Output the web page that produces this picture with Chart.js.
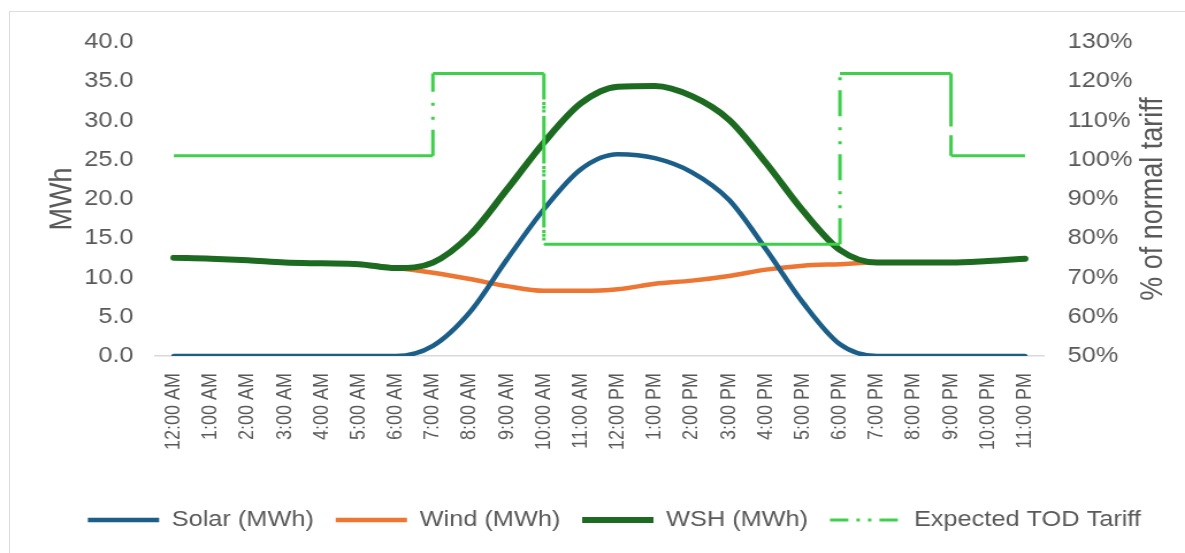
<!DOCTYPE html>
<html>
<head>
<meta charset="utf-8">
<script src="https://cdn.jsdelivr.net/npm/chart.js@4.4.1/dist/chart.umd.min.js"></script>
<style>
  html, body { margin: 0; padding: 0; background: #fff; overflow: hidden; }
  #frame { position: absolute; left: 9px; top: 11px; width: 1200px; height: 600px; border: 1px solid #dcdcdc; }
  #wrap { position: absolute; left: 0; top: 0; width: 1030px; height: 553px; transform: scaleX(1.1505); transform-origin: 0 0; }
</style>
</head>
<body>
<div id="frame"></div>
<div id="wrap"><canvas id="chart" width="1030" height="553"></canvas></div>
<script>
// hourly values
const hours = ['12:00 AM', '1:00 AM', '2:00 AM', '3:00 AM', '4:00 AM', '5:00 AM', '6:00 AM', '7:00 AM',
  '8:00 AM', '9:00 AM', '10:00 AM', '11:00 AM', '12:00 PM', '1:00 PM', '2:00 PM', '3:00 PM',
  '4:00 PM', '5:00 PM', '6:00 PM', '7:00 PM', '8:00 PM', '9:00 PM', '10:00 PM', '11:00 PM'];
const solar = [0, 0, 0, 0, 0, 0, 0, 1.3, 5.6, 12.3, 18.7, 23.8, 25.7, 25.2, 23.4, 19.9, 13.6, 6.8, 1.5, 0, 0, 0, 0, 0];
const wind = [12.5, 12.4, 12.2, 11.9, 11.8, 11.7, 11.2, 10.6, 9.8, 8.9, 8.3, 8.3, 8.5, 9.2, 9.6, 10.2, 11.0, 11.5, 11.7, 11.9, 11.9, 11.9, 12.1, 12.4];
const wsh = [12.5, 12.4, 12.2, 11.9, 11.8, 11.7, 11.2, 11.9, 15.4, 21.2, 27.2, 32.2, 34.3, 34.4, 33.1, 30.1, 24.6, 18.5, 13.5, 11.9, 11.9, 11.9, 12.1, 12.4];
const tariff = [101, 101, 101, 101, 101, 101, 101, 122, 122, 122, 78.5, 78.5, 78.5, 78.5, 78.5, 78.5,
  78.5, 78.5, 122, 122, 122, 101, 101, 101];

const mwhTicks = [0, 5, 10, 15, 20, 25, 30, 35, 40];
const pctTicks = [50, 60, 70, 80, 90, 100, 110, 120, 130];

// step line for the tariff: extra point at each hour where it changes
const tariffSteps = [];
tariff.forEach((v, i) => {
  if (i > 0 && v !== tariff[i - 1]) tariffSteps.push({x: i, y: tariff[i - 1]});
  tariffSteps.push({x: i, y: v});
});

const FONT = '"Liberation Sans", Arial, sans-serif';
const GREY = '#595959';
const tariffDash = [26, 10, 3, 11, 3, 11];

const rightTitle = {
  id: 'rightTitle',
  afterDraw(chart) {
    const {ctx, chartArea} = chart;
    ctx.save();
    ctx.translate(chart.width - 27.5, (chartArea.top + chartArea.bottom) / 2);
    ctx.rotate(-Math.PI / 2);
    ctx.font = '27px ' + FONT;
    ctx.fillStyle = GREY;
    ctx.textAlign = 'center';
    ctx.textBaseline = 'middle';
    ctx.fillText('% of normal tariff', 0, 0);
    ctx.restore();
  }
};

new Chart(document.getElementById('chart'), {
  type: 'line',
  data: {
    labels: hours,
    datasets: [
      {
        label: 'Solar (MWh)', data: solar, borderColor: '#1b5e87', backgroundColor: '#1b5e87',
        borderWidth: 4.5, borderCapStyle: 'round', pointRadius: 0,
        cubicInterpolationMode: 'monotone', yAxisID: 'y', order: 2
      },
      {
        label: 'Wind (MWh)', data: wind, borderColor: '#ec7632', backgroundColor: '#ec7632',
        borderWidth: 4.5, borderCapStyle: 'round', pointRadius: 0,
        cubicInterpolationMode: 'monotone', yAxisID: 'y', order: 3
      },
      {
        label: 'WSH (MWh)', data: wsh, borderColor: '#1c6b21', backgroundColor: '#1c6b21',
        borderWidth: 6, borderCapStyle: 'round', pointRadius: 0,
        cubicInterpolationMode: 'monotone', yAxisID: 'y', order: 1
      },
      {
        label: 'Expected TOD Tariff', data: tariffSteps, borderColor: '#3fcf4b', backgroundColor: '#3fcf4b',
        borderWidth: 3, borderCapStyle: 'butt', pointRadius: 0, tension: 0,
        xAxisID: 'x2', yAxisID: 'y1', order: 0,
        segment: {
          borderDash: ctx => ctx.p0.parsed.x === ctx.p1.parsed.x ? tariffDash : undefined
        }
      }
    ]
  },
  options: {
    responsive: false,
    animation: false,
    layout: { padding: { top: 42, left: 38, right: 0, bottom: 12 } },
    plugins: {
      tooltip: { enabled: false },
      legend: {
        position: 'bottom',
        labels: {
          usePointStyle: true,
          pointStyle: 'line',
          pointStyleWidth: 62,
          padding: 19,
          color: GREY,
          font: { family: FONT, size: 22 },
          sort: (a, b) => a.datasetIndex - b.datasetIndex,
          generateLabels(chart) {
            const items = Chart.defaults.plugins.legend.labels.generateLabels(chart);
            items.forEach(it => { if (it.datasetIndex === 3) it.lineDash = [16, 7, 3, 7, 3, 7]; });
            return items;
          }
        }
      }
    },
    scales: {
      x: {
        type: 'category',
        offset: true,
        grid: { display: false, drawTicks: false },
        border: { display: true, color: '#d9d9d9', width: 1.5 },
        ticks: {
          autoSkip: false, minRotation: 90, maxRotation: 90, padding: 17,
          color: GREY, font: { family: FONT, size: 18 }
        },
        afterFit: s => { s.height = 134; }
      },
      x2: { type: 'linear', display: false, min: -0.5, max: 23.5 },
      y: {
        position: 'left',
        min: 0, max: 40,
        grid: { display: false, drawTicks: false },
        border: { display: false },
        afterBuildTicks: s => { s.ticks = mwhTicks.map(v => ({value: v})); },
        ticks: {
          padding: 19, color: GREY, font: { family: FONT, size: 22 },
          callback: v => v.toFixed(1)
        },
        title: {
          display: true, text: 'MWh', color: GREY,
          font: { family: FONT, size: 27 }, padding: { top: 0, bottom: 0 }
        },
        afterFit: s => { s.width = 97; }
      },
      y1: {
        position: 'right',
        min: 50, max: 130,
        grid: { display: false, drawTicks: false },
        border: { display: false },
        afterBuildTicks: s => { s.ticks = pctTicks.map(v => ({value: v})); },
        ticks: {
          padding: 21, color: GREY, font: { family: FONT, size: 22 },
          callback: v => v + '%'
        },
        afterFit: s => { s.width = 123; }
      }
    }
  },
  plugins: [rightTitle]
});
</script>
</body>
</html>
